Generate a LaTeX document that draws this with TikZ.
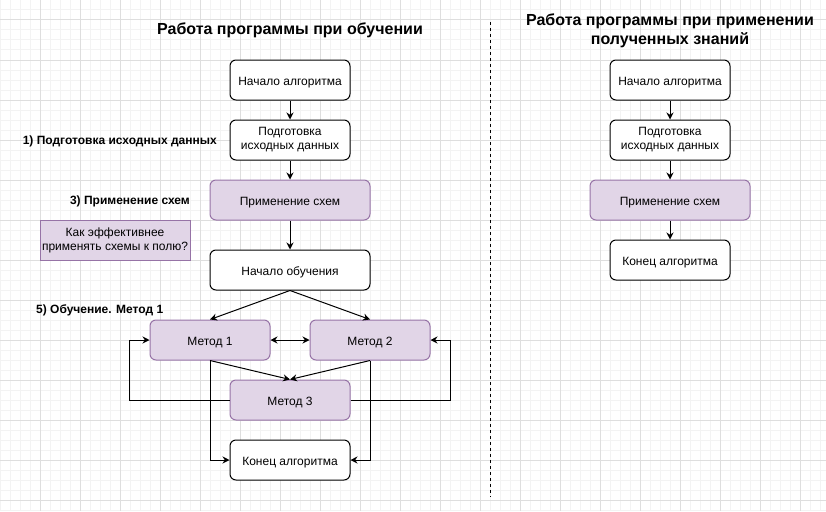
\documentclass[tikz,border=0pt]{standalone}
\usepackage{fontspec}
\setmainfont{Liberation Sans}
\usepackage{xcolor}
\usepackage{tikz}
\usetikzlibrary{shapes.geometric, arrows.meta}
\definecolor{violetfill}{HTML}{E1D5E7}
\definecolor{violetline}{HTML}{9673A6}
\definecolor{gridminor}{HTML}{F3F3F3}
\definecolor{gridmajor}{HTML}{DEDEDE}
\tikzstyle{box} = [rectangle, rounded corners=6pt, minimum width=120pt, minimum height=40pt, inner sep=2pt, text centered, align=center, draw=black, line width=1pt, fill=white, font=\fontsize{12}{14}\selectfont]
\tikzstyle{startstop} = [box, text height=10pt, text depth=0pt]
\tikzstyle{process} = [startstop, draw=violetline, fill=violetfill]
\tikzstyle{wide} = [minimum width=160pt]
\tikzstyle{note} = [rectangle, minimum width=150pt, minimum height=40pt, inner sep=2pt, text centered, align=center, draw=violetline, line width=1pt, fill=violetfill, font=\fontsize{12}{14}\selectfont]
\tikzstyle{stage} = [font=\bfseries\fontsize{12}{14}\selectfont, inner sep=0pt]
\tikzstyle{heading} = [font=\bfseries\fontsize{16}{19}\selectfont, align=center, inner sep=0pt]
\tikzstyle{arrow} = [line width=1pt, -{Stealth[length=7pt,width=7pt]}]
\tikzstyle{twoway} = [line width=1pt, {Stealth[length=7pt,width=7pt]}-{Stealth[length=7pt,width=7pt]}]

\begin{document}
\begin{tikzpicture}[x=1pt, y=-1pt, node distance = 60pt]
    \useasboundingbox (0,0) rectangle (826,511);
    % grid
    \foreach \gx in {0,10,...,820} \draw [gridminor, line width=1pt] (\gx,0) -- (\gx,511);
    \foreach \gy in {0,10,...,510} \draw [gridminor, line width=1pt] (0,\gy) -- (826,\gy);
    \foreach \gx in {40,80,...,800} \draw [gridmajor, line width=1pt] (\gx,0) -- (\gx,511);
    \foreach \gy in {20,60,...,500} \draw [gridmajor, line width=1pt] (0,\gy) -- (826,\gy);
    % left: training
    \node (titlea) [heading] at (290,30) {Работа программы при обучении};
    \node (start) [startstop] at (290,80) {Начало алгоритма};
    \node (prep) [box, below of=start] {Подготовка\\исходных данных};
    \node (apply) [process, wide, below of=prep] {Применение схем};
    \node (learn) [startstop, wide, below of=apply, yshift=-10pt] {Начало обучения};
    \node (m1) [process, below of=learn, xshift=-80pt, yshift=-10pt] {Метод 1};
    \node (m2) [process, below of=learn, xshift=80pt, yshift=-10pt] {Метод 2};
    \node (m3) [process, below of=m1, xshift=80pt] {Метод 3};
    \node (stop) [startstop, below of=m3] {Конец алгоритма};
    \node (s1) [stage, anchor=east] at (217,141) {1) Подготовка исходных данных};
    \node (s3) [stage, anchor=east] at (190,201) {3) Применение схем};
    \node (s5) [stage, anchor=west] at (36,310) {5) Обучение. Метод 1};
    \node (question) [note] at (115,240) {Как эффективнее\\применять схемы к полю?};
    \draw [arrow] (start) -- (prep);
    \draw [arrow] (prep) -- (apply);
    \draw [arrow] (apply) -- (learn);
    \draw [arrow] (learn.south) -- (m1.north);
    \draw [arrow] (learn.south) -- (m2.north);
    \draw [twoway] (m1) -- (m2);
    \draw [arrow] (m1.south) -- (m3.north);
    \draw [arrow] (m2.south) -- (m3.north);
    \draw [arrow] (m1.south) |- (stop.west);
    \draw [arrow] (m2.south) |- (stop.east);
    \draw [arrow] (m3.west) -- ++(-100,0) |- (m1.west);
    \draw [arrow] (m3.east) -- ++(100,0) |- (m2.east);
    % separator
    \coordinate (septop) at (490,22);
    \coordinate (sepbottom) at (490,497);
    \draw [line width=1pt, dash pattern=on 3pt off 3pt] (septop) -- (sepbottom);
    % right: applying
    \node (titleb) [heading] at (670,31) {Работа программы при применении\\полученных знаний};
    \node (startb) [startstop] at (670,80) {Начало алгоритма};
    \node (prepb) [box, below of=startb] {Подготовка\\исходных данных};
    \node (applyb) [process, wide, below of=prepb] {Применение схем};
    \node (stopb) [startstop, below of=applyb] {Конец алгоритма};
    \draw [arrow] (startb) -- (prepb);
    \draw [arrow] (prepb) -- (applyb);
    \draw [arrow] (applyb) -- (stopb);
\end{tikzpicture}
\end{document}
